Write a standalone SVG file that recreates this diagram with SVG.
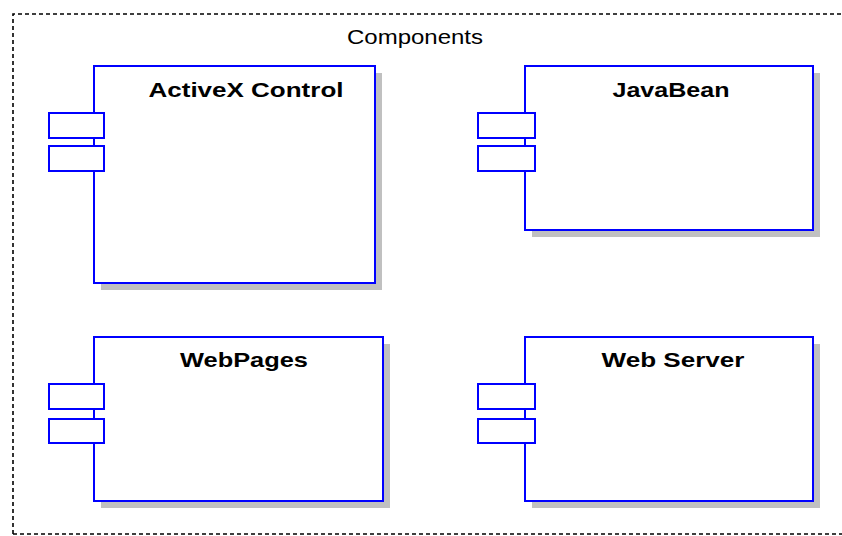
<svg xmlns="http://www.w3.org/2000/svg" width="842" height="536" viewBox="0 0 842 536">
<defs>
<style>
.frame{fill:none;stroke:#000;stroke-width:1.6;stroke-dasharray:4 3}
.shadow{fill:#c0c0c0}
.box{fill:#fff;stroke:#0000ff;stroke-width:2}
.title{font-family:"Liberation Sans",Arial,sans-serif;font-weight:bold;font-size:21px;fill:#000;text-anchor:middle}
.label{font-family:"Liberation Sans",Arial,sans-serif;font-size:21px;fill:#000}
</style>
</defs>
<rect width="842" height="536" fill="#fff"/>
<path class="frame" d="M13,534 V14 H845 M13,534 H845"/>
<text class="label" x="347" y="44" textLength="136" lengthAdjust="spacingAndGlyphs">Components</text>
<g id="activex">
<rect class="shadow" x="101" y="73" width="281" height="217"/>
<rect class="box" x="94" y="66" width="281" height="217"/>
<rect class="box" x="49" y="113" width="55" height="25"/>
<rect class="box" x="49" y="146" width="55" height="25"/>
<text class="title" x="246" y="97" textLength="195" lengthAdjust="spacingAndGlyphs">ActiveX Control</text>
</g>
<g id="javabean">
<rect class="shadow" x="532" y="73" width="288" height="164"/>
<rect class="box" x="525" y="66" width="288" height="164"/>
<rect class="box" x="478" y="113" width="57" height="25"/>
<rect class="box" x="478" y="146" width="57" height="25"/>
<text class="title" x="671" y="97" textLength="117" lengthAdjust="spacingAndGlyphs">JavaBean</text>
</g>
<g id="webpages">
<rect class="shadow" x="101" y="344" width="289" height="164"/>
<rect class="box" x="94" y="337" width="289" height="164"/>
<rect class="box" x="49" y="384" width="55" height="25"/>
<rect class="box" x="49" y="419" width="55" height="24"/>
<text class="title" x="244" y="367" textLength="128" lengthAdjust="spacingAndGlyphs">WebPages</text>
</g>
<g id="webserver">
<rect class="shadow" x="532" y="344" width="288" height="164"/>
<rect class="box" x="525" y="337" width="288" height="164"/>
<rect class="box" x="478" y="384" width="57" height="25"/>
<rect class="box" x="478" y="419" width="57" height="24"/>
<text class="title" x="673" y="367" textLength="143" lengthAdjust="spacingAndGlyphs">Web Server</text>
</g>
<g id="connectors"></g>
</svg>
